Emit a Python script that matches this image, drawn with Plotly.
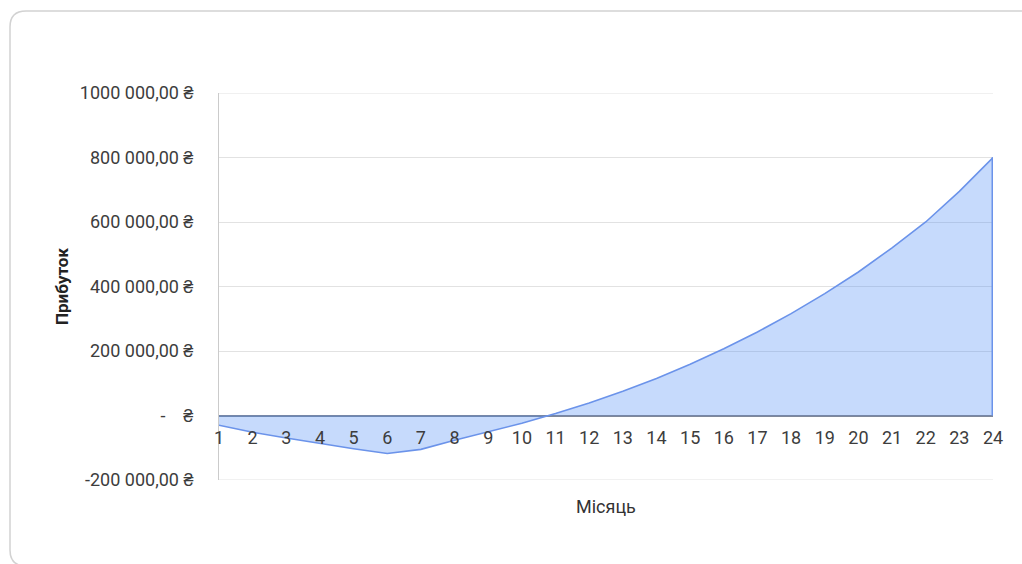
import plotly.graph_objects as go

# Monthly cumulative profit, UAH
MONTHS = [1, 2, 3, 4, 5, 6, 7, 8, 9, 10, 11, 12,
          13, 14, 15, 16, 17, 18, 19, 20, 21, 22, 23, 24]
PROFIT = [-30000, -52000, -70000, -87000, -103000, -118000,
          -105000, -77000, -51000, -24000, 6000, 39000,
          75000, 115000, 159000, 207000, 259000, 316000,
          378000, 445000, 520000, 600000, 695000, 800000]

Y_MIN, Y_MAX = -200000, 1000000
Y_TICK_VALUES = [-200000, 0, 200000, 400000, 600000, 800000, 1000000]
Y_TICK_LABELS = [
    "-200\u00a0000,00\u00a0₴",
    "-\u00a0\u00a0\u00a0\u00a0₴",
    "200\u00a0000,00\u00a0₴",
    "400\u00a0000,00\u00a0₴",
    "600\u00a0000,00\u00a0₴",
    "800\u00a0000,00\u00a0₴",
    "1000\u00a0000,00\u00a0₴",
]
X_TITLE = "Місяць"
Y_TITLE = "Прибуток"

# canvas and plot-area geometry (pixels)
W, H = 1022, 564
ML, MR, MT, MB = 219, 29, 93, 84
PW, PH = W - ML - MR, H - MT - MB

LINE_COLOR = "#6b93ea"
FILL_COLOR = "rgba(66,133,244,0.30)"
GRID_COLOR = "#e2e2e2"
TEXT_COLOR = "#3d3d3d"
FONT = "Roboto, 'Open Sans', sans-serif"


def px(x, y):
    """Canvas pixel -> paper coordinates."""
    return (x - ML) / PW, (H - MB - y) / PH


def card_path(x0, y0, x1, y1, r):
    pts = [
        ("M", [px(x0, y0 + r)]),
        ("Q", [px(x0, y0), px(x0 + r, y0)]),
        ("L", [px(x1, y0)]),
        ("L", [px(x1, y1)]),
        ("L", [px(x0 + r, y1)]),
        ("Q", [px(x0, y1), px(x0, y1 - r)]),
    ]
    s = ""
    for cmd, coords in pts:
        s += cmd + " " + " ".join(f"{a:.5f},{b:.5f}" for a, b in coords) + " "
    return s + "Z"


fig = go.Figure()

fig.add_trace(go.Scatter(
    x=MONTHS, y=PROFIT, mode="lines",
    line=dict(color=LINE_COLOR, width=1.6),
    fill="tozeroy", fillcolor=FILL_COLOR,
    hoverinfo="x+y", showlegend=False,
))
# closing edge of the area at the last month
fig.add_trace(go.Scatter(
    x=[MONTHS[-1], MONTHS[-1]], y=[0, PROFIT[-1]], mode="lines",
    line=dict(color=LINE_COLOR, width=3),
    hoverinfo="skip", showlegend=False,
))

# gridlines at the two ends of the value range
edge_grid = [dict(
    type="line", xref="paper", yref="y", layer="below",
    x0=0, x1=1, y0=v, y1=v,
    line=dict(color=GRID_COLOR, width=1),
) for v in (Y_TICK_VALUES[0], Y_TICK_VALUES[-1])]

card = dict(
    type="path", xref="paper", yref="paper", layer="below",
    path=card_path(10, 11, 1040, 566, 16),
    line=dict(color="#d2d2d2", width=1.5), fillcolor="rgba(0,0,0,0)",
)

fig.update_layout(
    width=W, height=H,
    margin=dict(l=ML, r=MR, t=MT, b=MB, autoexpand=False),
    paper_bgcolor="white", plot_bgcolor="white",
    font=dict(family=FONT, color=TEXT_COLOR),
    xaxis=dict(
        range=[MONTHS[0], MONTHS[-1]],
        anchor="free",
        position=(0 - Y_MIN) / (Y_MAX - Y_MIN),
        tickmode="array", tickvals=MONTHS,
        showgrid=False, zeroline=False, showline=False, ticks="",
        tickfont=dict(size=18, color=TEXT_COLOR),
        ticklabelstandoff=9,
    ),
    yaxis=dict(
        range=[Y_MIN, Y_MAX],
        tickmode="array", tickvals=Y_TICK_VALUES, ticktext=Y_TICK_LABELS,
        showgrid=True, gridcolor=GRID_COLOR, gridwidth=1,
        zeroline=True, zerolinecolor="#7f889a", zerolinewidth=1.5,
        showline=True, linecolor="#cbcbcb", linewidth=1,
        ticks="", ticklabelstandoff=21,
        tickfont=dict(size=18, color=TEXT_COLOR),
        title=dict(text=Y_TITLE, standoff=6,
                   font=dict(size=17, color="#222222", weight="bold")),
    ),
    annotations=[dict(
        text=X_TITLE, xref="paper", yref="paper",
        x=0.5, y=px(0, 507)[1], xanchor="center", yanchor="middle",
        showarrow=False, font=dict(size=18, color="#333333"),
    )],
    shapes=[card] + edge_grid,
)

fig.write_html("out.html")
